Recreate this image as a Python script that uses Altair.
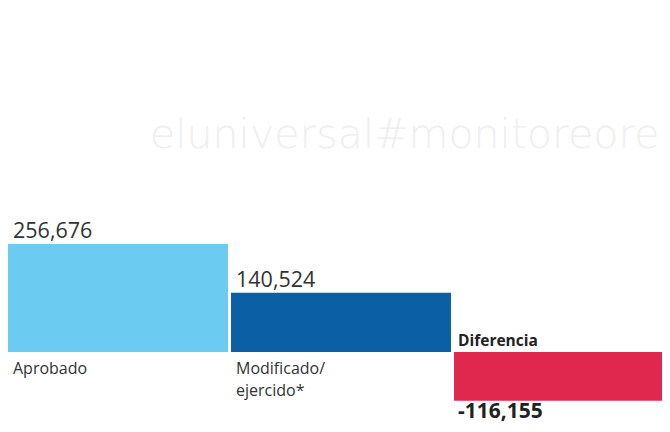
import altair as alt
import pandas as pd

categories = ["Aprobado", "Modificado/\nejercido*", "Diferencia"]
values = [256676, 140524, -116155]
value_labels = ["256,676", "140,524", "-116,155"]
colors = ["#6bcbf1", "#0b5fa5", "#e0284f"]
watermark = "eluniversal#monitoreorev"

df = pd.DataFrame({
    "cat": categories,
    "val": values,
    "lab": value_labels,
    "color": colors,
    "zero": [0, 0, 0],
})

FONT = "Open Sans"
xscale = alt.Scale(paddingInner=0.0136, paddingOuter=0, range=[0, 666])
x = alt.X("cat:N", sort=categories, axis=None, scale=xscale)
xl = alt.X("cat:N", sort=categories, axis=None, bandPosition=0, scale=xscale)
yscale = alt.Scale(domain=[-171115, 817540])

base = alt.Chart(df)

bars = base.mark_bar(clip=True).encode(
    x=x,
    y=alt.Y("val:Q", axis=None, scale=yscale),
    y2="zero:Q",
    color=alt.Color("color:N", scale=None),
)

pos = "datum.val >= 0"
neg = "datum.val < 0"

val_pos = base.transform_filter(pos).mark_text(
    align="left", baseline="alphabetic", dx=5, dy=-6, font=FONT, fontSize=21.5, color="#333333"
).encode(x=xl, y=alt.Y("val:Q", scale=yscale), text="lab:N")

val_neg = base.transform_filter(neg).mark_text(
    align="left", baseline="alphabetic", dx=4, dy=17, font=FONT, fontSize=21, fontWeight="bold", color="#222222"
).encode(x=xl, y=alt.Y("val:Q", scale=yscale), text="lab:N")

cat_pos = base.transform_filter(pos).mark_text(
    align="left", baseline="alphabetic", dx=5, dy=22, font=FONT, fontSize=16, color="#333333",
    lineBreak="\n", lineHeight=22
).encode(x=xl, y=alt.Y("zero:Q", scale=yscale), text="cat:N")

cat_neg = base.transform_filter(neg).mark_text(
    align="left", baseline="alphabetic", dx=4, dy=-6, font=FONT, fontSize=15.5, fontWeight="bold", color="#222222"
).encode(x=xl, y=alt.Y("zero:Q", scale=yscale), text="cat:N")

wm = alt.Chart(pd.DataFrame({"t": [watermark]})).mark_text(
    align="left", baseline="alphabetic", font="DejaVu Sans", fontSize=41, fontWeight=200, color="#efefef"
).encode(x=alt.value(142), y=alt.value(140), text="t:N")

chart = alt.layer(wm, bars, val_pos, val_neg, cat_pos, cat_neg).properties(
    width=654, height=416, padding=0,
    autosize=alt.AutoSizeParams(type="none"),
).configure_view(stroke=None)

chart.save("out.html", embed_options={"renderer": "svg", "actions": False})
